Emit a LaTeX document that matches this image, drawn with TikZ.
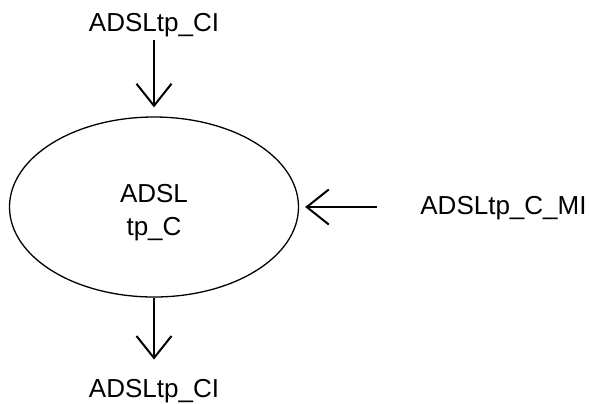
\documentclass[tikz,border=0pt]{standalone}
\usepackage{fontspec}
\setmainfont{Liberation Sans}
\usetikzlibrary{shapes.geometric, arrows.meta, positioning}

\begin{document}
\begin{tikzpicture}[x=0.5pt, y=-0.5pt]
    % Node styles
    \tikzstyle{process} = [ellipse, draw, line width=0.65pt, inner sep=0pt, minimum width=144.5pt, minimum height=90pt, align=center, font=\fontsize{13}{14.5}\selectfont]
    \tikzstyle{flowlabel} = [inner sep=0pt, text height=10pt, text depth=3pt, font=\fontsize{13}{15}\selectfont]
    \tikzstyle{flowarrow} = [-{Straight Barb[length=11pt, width=17.5pt, line width=1pt]}, line width=1pt]

    \useasboundingbox (0,0) rectangle (589,403);

    % Nodes
    \node (proc) [process] at (154,207) {\raisebox{-14pt}[0pt][0pt]{\shortstack{ADSL\\[4pt]tp\_C}}};
    \node (ciin) [flowlabel] at (154,24) {ADSLtp\_CI};
    \node (ciout) [flowlabel] at (154,390) {ADSLtp\_CI};
    \node (mi) [flowlabel, anchor=west] at (420,207) {ADSLtp\_C\_MI};

    % Arrows
    \draw[flowarrow, shorten <=1.5pt, shorten >=4.5pt] (ciin.south) -- (ciin.south |- proc.north);
    \draw[flowarrow, shorten >=8.5pt] (proc.south) -- (proc.south |- ciout.north);
    \draw[flowarrow, shorten <=21.5pt, shorten >=3pt] (mi.west) -- (mi.west -| proc.east);
\end{tikzpicture}
\end{document}
